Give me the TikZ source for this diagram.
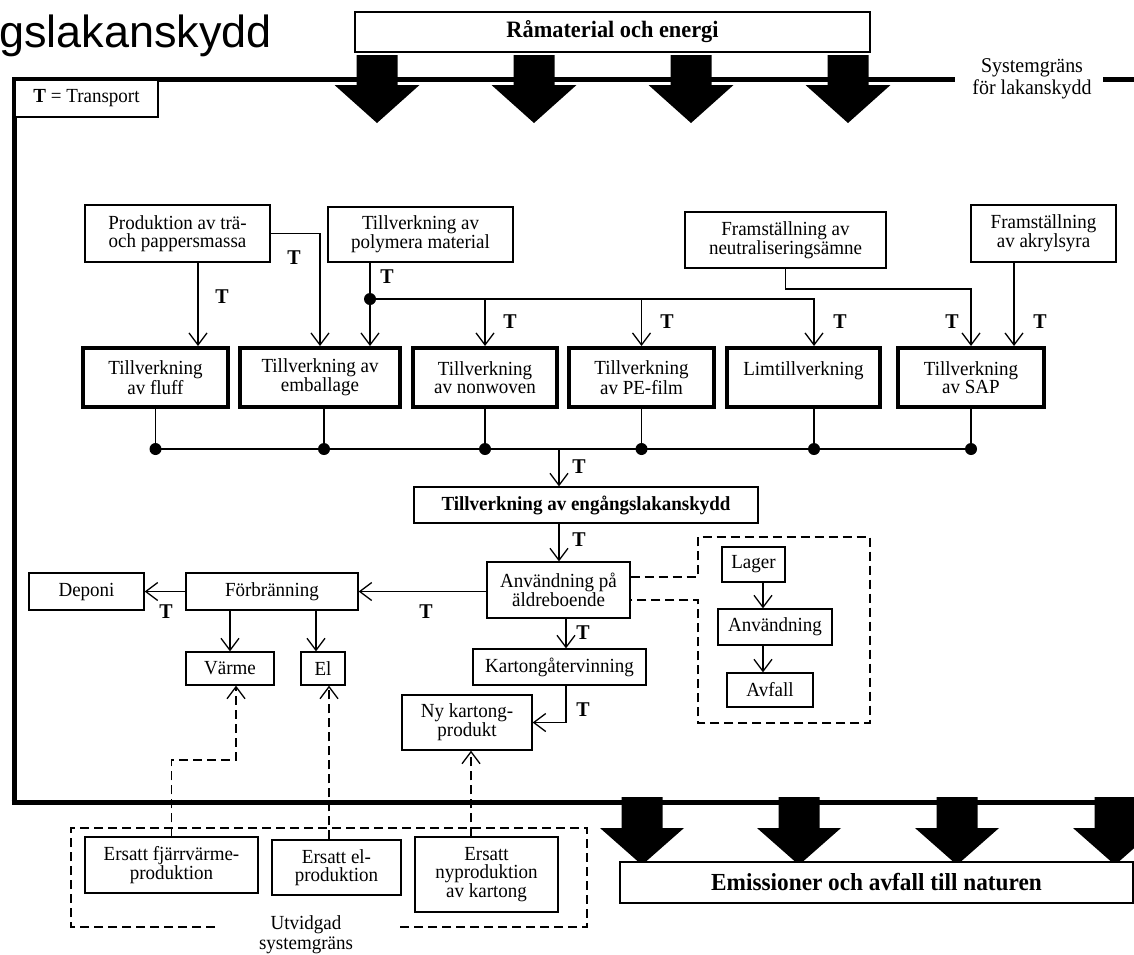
\documentclass[tikz,border=0pt]{standalone}
\usepackage{fontspec}
\setmainfont[FakeStretch=0.95]{Liberation Serif}
\newfontfamily\arialf{Liberation Sans}
\usetikzlibrary{arrows.meta,calc}
\newcommand\myn{\fontsize{20}{18}\selectfont}
\newcommand\mytb{\fontsize{21}{21}\selectfont\bfseries}
\begin{document}
\begin{tikzpicture}[x=1pt,y=-1pt,
 box/.style={draw, line width=1.3pt, fill=white, align=center, inner sep=0pt, font=\myn},
 thickbox/.style={box, line width=4pt},
 arr/.style={line width=1.3pt, -{Straight Barb[length=12pt,width=18pt,line width=1.3pt]}},
 dsh/.style={line width=1.3pt, dash pattern=on 9pt off 5pt},
 darr/.style={dsh, -{Straight Barb[length=12pt,width=18pt,line width=1.3pt]}},
 tl/.style={font=\mytb, inner sep=0pt},
 dot/.style={circle, fill, inner sep=0pt, minimum size=12pt},
 bound/.style={line width=5pt}
]
\clip (0,0) rectangle (1134,954);
\fill[white] (0,0) rectangle (1134,954);

% columns and rows
\coordinate (cA) at (198,0);
\coordinate (cB) at (370,0);
\coordinate (cC) at (814,0);
\coordinate (cD) at (1014,0);
\coordinate (cE) at (559,0);
\coordinate (cF) at (566,0);
\coordinate (cG) at (316,0);
\coordinate (cH) at (324,0);
\coordinate (cI) at (763,0);
\coordinate (cJ) at (236,0);
\coordinate (cK) at (329,0);
\coordinate (cL) at (471,0);
\coordinate (bus) at (0,449);
\coordinate (r299) at (0,299);
\coordinate (r289) at (0,289);
\coordinate (r760) at (0,760);
\coordinate (r577) at (0,577);
\coordinate (r600) at (0,600);

% title
\node[anchor=base west, font=\arialf\fontsize{45}{45}\selectfont, inner sep=0pt] (title) at (-1,47) {gslakanskydd};

% system boundary
\draw[bound] (14,79.5) -- (955,79.5);
\draw[bound] (1103,79.5) -- (1140,79.5);
\draw[bound] (14,77) -- (14,802.5);
\draw[bound] (11.5,802.5) -- (1140,802.5);
\node[font=\fontsize{21}{22}\selectfont, align=center, inner sep=0pt] (sg) at (1032,79) {Systemgräns\\för lakanskydd};

% raw material box and arrows
\node[box, minimum width=515pt, minimum height=40pt, font=\fontsize{23.5}{24}\selectfont\bfseries] (raw) at (612.5,32) {Råmaterial och energi};
\foreach \x in {377,534,691,848}{
 \fill (\x-20.5,55) -- (\x+20.5,55) -- (\x+20.5,85) -- (\x+42.5,85) -- (\x,123) -- (\x-42.5,85) -- (\x-20.5,85) -- cycle;
}
\foreach \x in {642,799,957,1115}{
 \fill (\x-20.5,797) -- (\x+20.5,797) -- (\x+20.5,828) -- (\x+42,828) -- (\x,865) -- (\x-42,828) -- (\x-20.5,828) -- cycle;
}
\node[box, minimum width=513pt, minimum height=41pt, font=\fontsize{24.5}{25}\selectfont\bfseries] (emis) at (876.5,882.5) {Emissioner och avfall till naturen};

% transport legend
\node[box, minimum width=143pt, minimum height=37pt] (legend) at (86.5,98.5) {\textbf{T} = Transport};

% source boxes
\node[box, minimum width=185pt, minimum height=57pt] (prod) at (177.5,233.5) {Produktion av trä-\\och pappersmassa};
\node[box, minimum width=185pt, minimum height=55pt] (poly) at (420.5,234.5) {Tillverkning av\\polymera material};
\node[box, minimum width=201pt, minimum height=56pt] (neut) at (785.5,240) {Framställning av\\neutraliseringsämne};
\node[box, minimum width=145pt, minimum height=57pt] (akryl) at (1043.5,233.5) {Framställning\\av akrylsyra};

% thick boxes
\node[thickbox, minimum width=145pt, minimum height=59pt] (fluff) at (155.5,377.5) {Tillverkning\\av fluff};
\node[thickbox, minimum width=160pt, minimum height=59pt] (emb) at (320,377.5) {Tillverkning av\\emballage};
\node[thickbox, minimum width=144pt, minimum height=59pt] (nonw) at (485,377.5) {Tillverkning\\av nonwoven};
\node[thickbox, minimum width=145pt, minimum height=59pt] (pe) at (641.5,377.5) {Tillverkning\\av PE-film};
\node[thickbox, minimum width=153pt, minimum height=59pt] (lim) at (803.5,377.5) {Limtillverkning\\\mbox{}};
\node[thickbox, minimum width=146pt, minimum height=59pt] (sap) at (971,377.5) {Tillverkning\\av SAP};

% main chain
\node[box, minimum width=344pt, minimum height=36pt, font=\fontsize{20}{20}\selectfont\bfseries] (engangs) at (586,505) {Tillverkning av engångslakanskydd};
\node[box, minimum width=143pt, minimum height=56pt] (anv) at (558.5,590) {Användning på\\äldreboende};
\node[box, minimum width=172pt, minimum height=37pt] (forb) at (272,591.5) {Förbränning};
\node[box, minimum width=115pt, minimum height=37pt] (deponi) at (86.5,591.5) {Deponi};
\node[box, minimum width=88pt, minimum height=33pt] (varme) at (230,668.5) {Värme};
\node[box, minimum width=44pt, minimum height=33pt] (el) at (323,668.5) {El};
\node[box, minimum width=173pt, minimum height=36pt] (kartong) at (559.5,667) {Kartongåtervinning};
\node[box, minimum width=130pt, minimum height=55pt] (nykart) at (467,722.5) {Ny kartong-\\produkt};

% detail boxes
\node[box, minimum width=63pt, minimum height=35pt] (lager) at (753.5,564.5) {Lager};
\node[box, minimum width=114pt, minimum height=36pt] (anv2) at (775,627) {Användning};
\node[box, minimum width=86pt, minimum height=34pt] (avfall) at (770,690) {Avfall};

% extended boundary boxes
\node[box, minimum width=173pt, minimum height=56pt] (fjarr) at (171.5,865) {Ersatt fjärrvärme-\\produktion};
\node[box, minimum width=129pt, minimum height=55pt] (elr) at (336.5,867.5) {Ersatt el-\\produktion};
\node[box, minimum width=143pt, minimum height=75pt] (nyprod) at (486.5,874.5) {Ersatt\\nyproduktion\\av kartong};
\draw[dsh] (215,927) -- (71,927) -- (71,828) -- (587,828) -- (587,927) -- (400,927);
\node[font=\fontsize{20}{20}\selectfont, align=center, inner sep=0pt] (utv) at (306,935) {Utvidgad\\systemgräns};

% connectors, upper part
\draw[arr] (prod.south -| cA) -- (fluff.north -| cA);
\draw[arr] (prod.east) -| (emb.north);
\draw[arr] (poly.south -| cB) -- (emb.north -| cB);
\draw[arr] (cB |- r299) -| (nonw.north);
\draw[arr] (cB |- r299) -| (pe.north);
\draw[arr] (cB |- r299) -| (lim.north -| cC);
\node[dot] (j1) at (cB |- r299) {};
\draw[arr] (neut.south) |- (sap.north |- r289) -- (sap.north);
\draw[arr] (akryl.south -| cD) -- (sap.north -| cD);

% bus
\path (fluff.south |- bus) node[dot] (b1) {};
\path (cH |- bus) node[dot] (b2) {};
\path (nonw.south |- bus) node[dot] (b3) {};
\path (pe.south |- bus) node[dot] (b4) {};
\path (cC |- bus) node[dot] (b5) {};
\path (sap.south |- bus) node[dot] (b6) {};
\draw[line width=1.3pt] (b1.center) -- (b6.center);
\draw[line width=1.3pt] (fluff.south) -- (b1.center) (emb.south -| cH) -- (b2.center) (nonw.south) -- (b3.center) (pe.south) -- (b4.center) (lim.south -| cC) -- (b5.center) (sap.south) -- (b6.center);

% main chain connectors
\draw[arr] (bus -| cE) -- (engangs.north -| cE);
\draw[arr] (engangs.south -| cE) -- (anv.north -| cE);
\draw[arr] (anv.west |- forb.east) -- (forb.east);
\draw[arr] (forb.west) -- (deponi.east);
\draw[arr] (forb.south -| varme.north) -- (varme.north);
\draw[arr] (forb.south -| cG) -- (el.north -| cG);
\draw[arr] (anv.south -| cF) -- (kartong.north -| cF);
\draw[arr] (kartong.south -| cF) |- (nykart.east);
\draw[arr] (lager.south -| cI) -- (anv2.north -| cI);
\draw[arr] (anv2.south -| cI) -- (avfall.north -| cI);

% dashed
\draw[dsh] (anv.east |- r577) -- (698,577) -- (698,537) -- (870,537) -- (870,723) -- (698,723) -- (698,600) -- (anv.east |- r600);
\draw[darr] (fjarr.north) |- (cJ |- r760) -- (varme.south -| cJ);
\draw[darr] (elr.north -| cK) -- (el.south -| cK);
\draw[darr] (nyprod.north -| cL) -- (nykart.south -| cL);

% T labels
\node[tl] (t1) at (222,297) {T};
\node[tl] (t2) at (294,258) {T};
\node[tl] (t3) at (387,277) {T};
\node[tl] (t4) at (510,322) {T};
\node[tl] (t5) at (667,322) {T};
\node[tl] (t6) at (840,322) {T};
\node[tl] (t7) at (952,322) {T};
\node[tl] (t8) at (1040,322) {T};
\node[tl] (t9) at (579,467) {T};
\node[tl] (t10) at (579,540) {T};
\node[tl] (t11) at (426,612) {T};
\node[tl] (t12) at (166,612) {T};
\node[tl] (t13) at (583,633) {T};
\node[tl] (t14) at (583,710) {T};
\end{tikzpicture}
\end{document}
